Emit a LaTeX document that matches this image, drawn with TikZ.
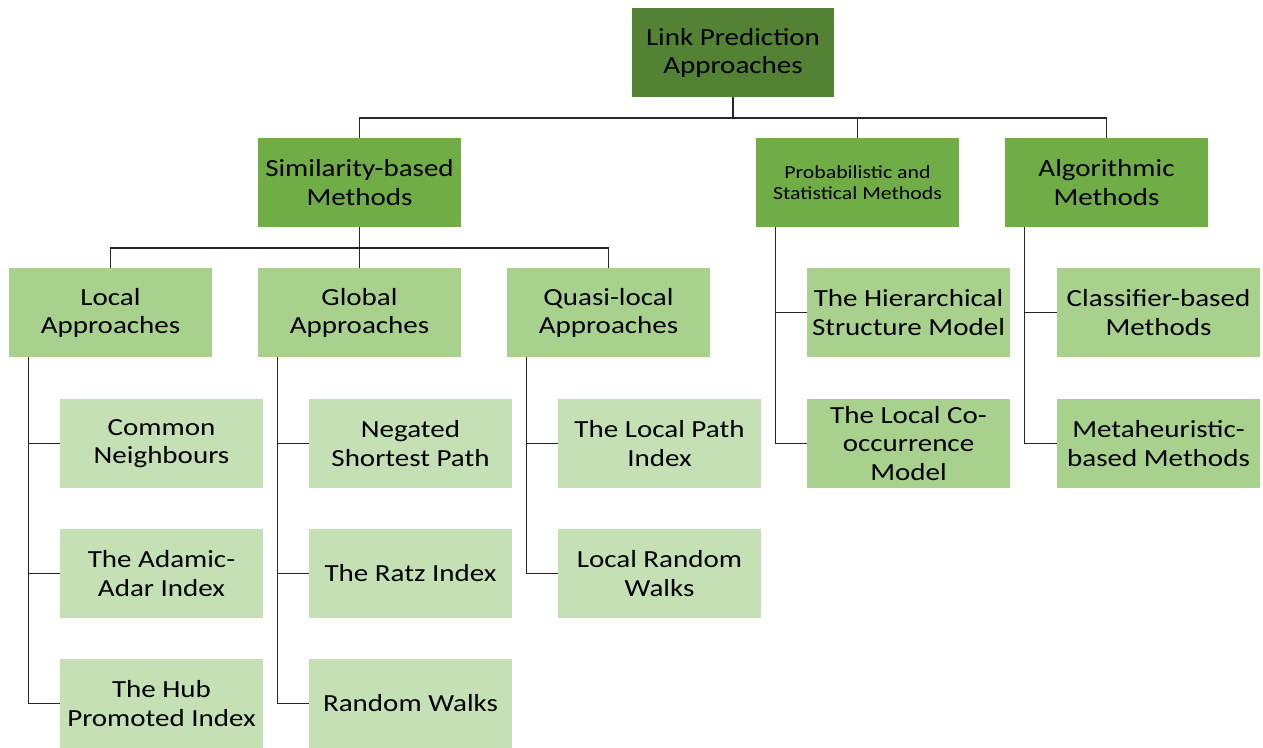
\documentclass[tikz,border=0pt]{standalone}
\usepackage{fontspec}
\setmainfont[FakeStretch=1.18]{Carlito}
\usetikzlibrary{positioning}
\definecolor{rootgreen}{HTML}{548235}
\definecolor{midgreen}{HTML}{70AD47}
\definecolor{lightgreen}{HTML}{A9D18E}
\definecolor{palegreen}{HTML}{C5E0B4}
\tikzset{box/.style = {minimum width=4.06cm, minimum height=1.78cm, inner sep=1pt,
                       align=center, font=\fontsize{14}{16}\selectfont},
         rootbox/.style = {box, fill=rootgreen},
         methodbox/.style = {box, fill=midgreen},
         groupbox/.style = {box, fill=lightgreen},
         leafbox/.style = {box, fill=palegreen},
         link/.style = {draw=black!85, line width=0.7pt}}

\begin{document}
\begin{tikzpicture}[x=0.02cm, y=-0.02cm]
      \useasboundingbox (0,0) rectangle (1263,747);
      % top levels
      \node [rootbox] (lp) at (733,52.5) {Link Prediction\\Approaches};
      \node [methodbox] (sim) at (359.5,182.5) {Similarity-based\\Methods};
      \node [methodbox, font=\fontsize{10.5}{12}\selectfont] (prob) at (857.5,182.5) {Probabilistic and\\Statistical Methods};
      \node [methodbox] (alg) at (1106.5,182.5) {Algorithmic\\Methods};
      \node [groupbox] (local) at (110.5,312.5) {Local\\Approaches};
      \node [groupbox] (global) at (359.5,312.5) {Global\\Approaches};
      \node [groupbox] (quasi) at (608.5,312.5) {Quasi-local\\Approaches};
      \node [groupbox] (hsm) at (908.5,312.5) {The Hierarchical\\Structure Model};
      \node [groupbox] (lcm) at (908.5,443.5) {The Local Co-\\occurrence\\Model};
      \node [groupbox] (cbm) at (1158.5,312.5) {Classifier-based\\Methods};
      \node [groupbox] (mbm) at (1158.5,443.5) {Metaheuristic-\\based Methods};
      % leaves
      \node [leafbox] (cn) at (161.5,443.5) {Common\\Neighbours};
      \node [leafbox] (aa) at (161.5,573.5) {The Adamic-\\Adar Index};
      \node [leafbox] (hp) at (161.5,703.5) {The Hub\\Promoted Index};
      \node [leafbox] (nsp) at (410.5,443.5) {Negated\\Shortest Path};
      \node [leafbox] (ratz) at (410.5,573.5) {The Ratz Index};
      \node [leafbox] (rw) at (410.5,703.5) {Random Walks};
      \node [leafbox] (lpi) at (659.5,443.5) {The Local Path\\Index};
      \node [leafbox] (lrw) at (659.5,573.5) {Local Random\\Walks};

      \coordinate (bus) at (733,118);
      \coordinate (simbus) at (359.5,248);
      \draw [link] (lp) -- (bus);
      \draw [link] (sim.north) |- (bus) -| (alg.north);
      \draw [link] (prob.north) -- (prob.north |- bus);
      \draw [link] (sim) -- (simbus);
      \draw [link] (local.north) |- (simbus) -| (quasi.north);
      \draw [link] (global.north) -- (simbus);

      % spines
      \foreach \p/\last/\others in {local/hp/{cn,aa}, global/rw/{nsp,ratz},
                                    quasi/lrw/{lpi}, prob/lcm/{hsm}, alg/mbm/{cbm}} {
        \coordinate (spine) at ([xshift=0.4cm]\p.south west);
        \draw [link] (spine) |- (\last.west);
        \foreach \n in \others
          \draw [link] (\n.west) -- (\n.west -| spine);
      }
    \end{tikzpicture}
\end{document}
